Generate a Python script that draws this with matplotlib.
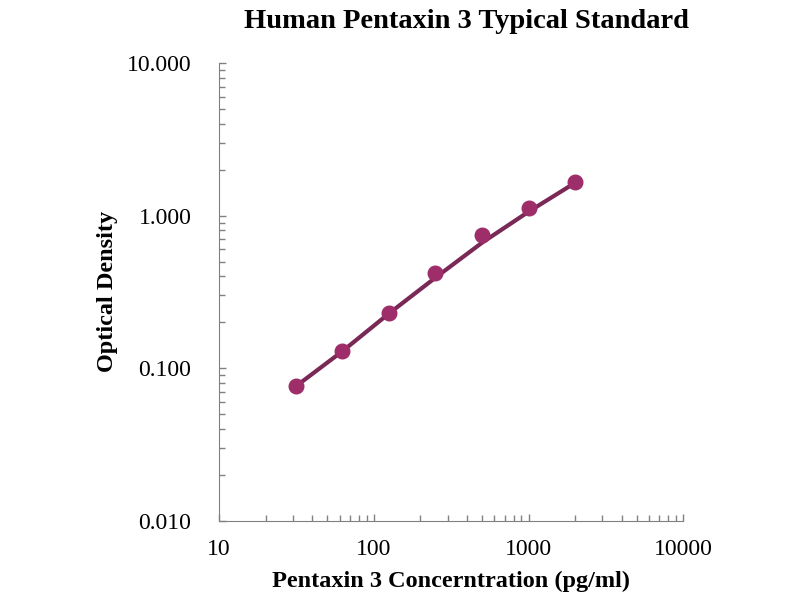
import numpy as np
import matplotlib
matplotlib.use("Agg")
import matplotlib.pyplot as plt
from matplotlib.ticker import FixedLocator, LogLocator, NullFormatter

conc = [31.25, 62.5, 125, 250, 500, 1000, 2000]
od = [0.076, 0.129, 0.230, 0.420, 0.745, 1.12, 1.67]
# standard-curve fit at each standard
fit_od = [0.076, 0.129, 0.228, 0.392, 0.664, 1.06, 1.64]
x_ticks = [10, 100, 1000, 10000]
x_labels = ["10", "100", "1000", "10000"]
y_ticks = [0.01, 0.1, 1, 10]
y_labels = ["0.010", "0.100", "1.000", "10.000"]

plt.rcParams['font.family'] = ['Liberation Serif', 'DejaVu Serif']

fig = plt.figure(figsize=(8, 6), dpi=100)
ax = fig.add_axes([0.274, 0.132, 0.58, 0.763])

ax.plot(conc, fit_od, color='#7a2855', lw=3, zorder=2, solid_joinstyle='round')
ax.plot(conc, od, 'o', color='#9e2e6a', ms=10.5, zorder=3)

ax.set_xscale('log')
ax.set_yscale('log')
ax.set_xlim(10, 10000)
ax.set_ylim(0.01, 10)
ax.xaxis.set_major_locator(FixedLocator(x_ticks))
ax.yaxis.set_major_locator(FixedLocator(y_ticks))
ax.set_xticklabels(x_labels, fontsize=17)
ax.set_yticklabels(y_labels, fontsize=17)
ax.xaxis.set_minor_locator(LogLocator(base=10, subs=np.arange(2, 10)))
ax.yaxis.set_minor_locator(LogLocator(base=10, subs=np.arange(2, 10)))
ax.xaxis.set_minor_formatter(NullFormatter())
ax.yaxis.set_minor_formatter(NullFormatter())
ax.tick_params(which='both', direction='in', color='#808080', width=1)
ax.tick_params(which='major', length=5)
ax.tick_params(which='minor', length=4)
ax.tick_params(axis='x', which='major', pad=13)
ax.tick_params(axis='y', which='major', pad=20)

for s in ['top', 'right']:
    ax.spines[s].set_visible(False)
for s in ['left', 'bottom']:
    ax.spines[s].set_color('#808080')

ax.set_xlabel("Pentaxin 3 Concerntration (pg/ml)", fontsize=17.5, fontweight='bold', labelpad=8)
ax.set_ylabel("Optical Density", fontsize=17.5, fontweight='bold', labelpad=6)
fig.text(0.583, 0.965, "Human Pentaxin 3 Typical Standard", fontsize=20.5, fontweight='bold',
         ha='center', va='center')

fig.savefig("out.png", dpi=100)
